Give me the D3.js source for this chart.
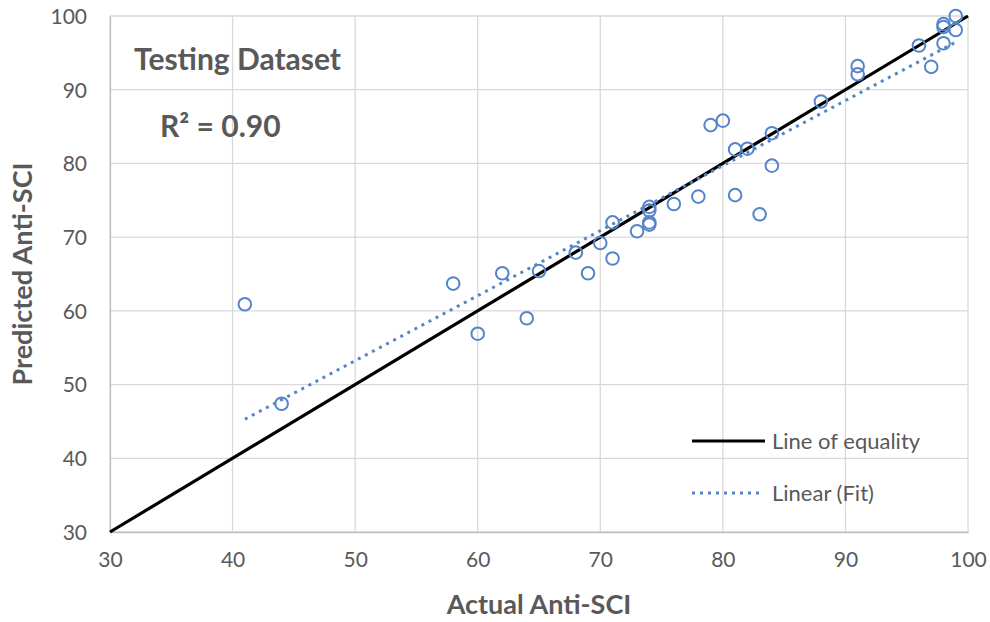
<!DOCTYPE html>
<html>
<head>
<meta charset="utf-8">
<script src="https://cdn.jsdelivr.net/npm/d3@7/dist/d3.min.js"></script>
<style>
  html, body { margin: 0; padding: 0; background: #fff; }
  svg { display: block; font-family: Lato, "Open Sans", sans-serif; }
</style>
</head>
<body>
<svg id="chart" width="990" height="622"></svg>
<script>
// Actual vs predicted Anti-SCI, testing dataset
const actual = [41, 44, 58, 60, 62, 64, 65, 68, 69, 70, 71, 71, 73, 74, 74, 74, 74, 76, 78, 79, 80, 81, 81, 82, 83, 84, 84, 88, 91, 91, 96, 97, 98, 98, 98, 99, 99];
const predicted = [60.9, 47.4, 63.7, 56.9, 65.1, 59.0, 65.4, 67.9, 65.1, 69.2, 72.0, 67.1, 70.8, 74.1, 73.6, 72.0, 71.7, 74.5, 75.5, 85.2, 85.8, 81.9, 75.7, 82.0, 73.1, 84.1, 79.7, 88.4, 93.2, 92.1, 96.0, 93.1, 96.3, 98.5, 98.9, 100.0, 98.1];
const xTicks = [30, 40, 50, 60, 70, 80, 90, 100];
const yTicks = [30, 40, 50, 60, 70, 80, 90, 100];
const equalityLine = [30, 100];
const chartTitle = "Testing Dataset";
const r2Label = "R² = 0.90";
const legendLabels = ["Line of equality", "Linear (Fit)"];

const svg = d3.select("#chart");
const margin = { left: 110, right: 22, top: 16, bottom: 90 };
const W = 990, H = 622;

const x = d3.scaleLinear().domain([30, 100]).range([margin.left, W - margin.right]);
const y = d3.scaleLinear().domain([30, 100]).range([H - margin.bottom, margin.top]);

const textColor = "#595959";
const pointColor = "#5585c8";

// gridlines
const grid = svg.append("g");
grid.selectAll("line.v").data(xTicks).join("line")
  .attr("x1", d => x(d)).attr("x2", d => x(d))
  .attr("y1", y(30)).attr("y2", y(100))
  .attr("stroke", "#d9d9d9").attr("stroke-width", 1.3);
grid.selectAll("line.h").data(yTicks).join("line")
  .attr("x1", x(30)).attr("x2", x(100))
  .attr("y1", d => y(d)).attr("y2", d => y(d))
  .attr("stroke", "#d9d9d9").attr("stroke-width", 1.3);

// axes
const xAxis = svg.append("g").attr("transform", `translate(0,${y(30)})`)
  .call(d3.axisBottom(x).tickValues(xTicks).tickSize(0).tickPadding(20));
const yAxis = svg.append("g").attr("transform", `translate(${x(30)},0)`)
  .call(d3.axisLeft(y).tickValues(yTicks).tickSize(0).tickPadding(23));
[xAxis, yAxis].forEach(a => {
  a.select(".domain").attr("stroke", "#bfbfbf").attr("stroke-width", 1.3);
  a.selectAll("text").attr("fill", textColor).style("font-size", "21px").style("font-family", "Lato, sans-serif");
});
yAxis.selectAll("text").attr("dy", "0.35em");

// line of equality
svg.append("line")
  .attr("x1", x(equalityLine[0])).attr("y1", y(equalityLine[0]))
  .attr("x2", x(equalityLine[1])).attr("y2", y(equalityLine[1]))
  .attr("stroke", "#000").attr("stroke-width", 3.2);

// least-squares fit over the data range
const n = actual.length;
const mx = d3.mean(actual), my = d3.mean(predicted);
let sxy = 0, sxx = 0;
for (let i = 0; i < n; i++) { sxy += (actual[i] - mx) * (predicted[i] - my); sxx += (actual[i] - mx) ** 2; }
const slope = sxy / sxx, intercept = my - slope * mx;
const [xmin, xmax] = d3.extent(actual);
svg.append("line")
  .attr("x1", x(xmin)).attr("y1", y(intercept + slope * xmin))
  .attr("x2", x(xmax)).attr("y2", y(intercept + slope * xmax))
  .attr("stroke", pointColor).attr("stroke-width", 3)
  .attr("stroke-dasharray", "3,5").attr("stroke-linecap", "butt");

// points
svg.append("g").selectAll("circle").data(actual).join("circle")
  .attr("cx", d => x(d)).attr("cy", (d, i) => y(predicted[i]))
  .attr("r", 6.3)
  .attr("fill", "none").attr("stroke", pointColor).attr("stroke-width", 2);

// annotations
svg.append("text").attr("x", 134).attr("y", 70)
  .attr("fill", textColor).style("font-size", "30px").style("font-weight", "bold")
  .text(chartTitle);
svg.append("text").attr("x", 160).attr("y", 137)
  .attr("fill", textColor).style("font-size", "30px").style("font-weight", "bold")
  .text(r2Label);

// legend
const lg = svg.append("g");
lg.append("line").attr("x1", 692).attr("x2", 765).attr("y1", 441).attr("y2", 441)
  .attr("stroke", "#000").attr("stroke-width", 3.2);
lg.append("line").attr("x1", 692).attr("x2", 764).attr("y1", 493).attr("y2", 493)
  .attr("stroke", pointColor).attr("stroke-width", 3).attr("stroke-dasharray", "3,5");
lg.selectAll("text").data(legendLabels).join("text")
  .attr("x", 772).attr("y", (d, i) => 441 + i * 52).attr("dy", "0.35em")
  .attr("fill", textColor).style("font-size", "22px")
  .text(d => d);

// axis titles
svg.append("text").attr("x", x(65)).attr("y", 614)
  .attr("text-anchor", "middle").attr("fill", textColor)
  .style("font-size", "27px").style("font-weight", "bold")
  .text("Actual Anti-SCI");
svg.append("text").attr("transform", `translate(32,${y(65)}) rotate(-90)`)
  .attr("text-anchor", "middle").attr("fill", textColor)
  .style("font-size", "27px").style("font-weight", "bold")
  .text("Predicted Anti-SCI");
</script>
</body>
</html>
